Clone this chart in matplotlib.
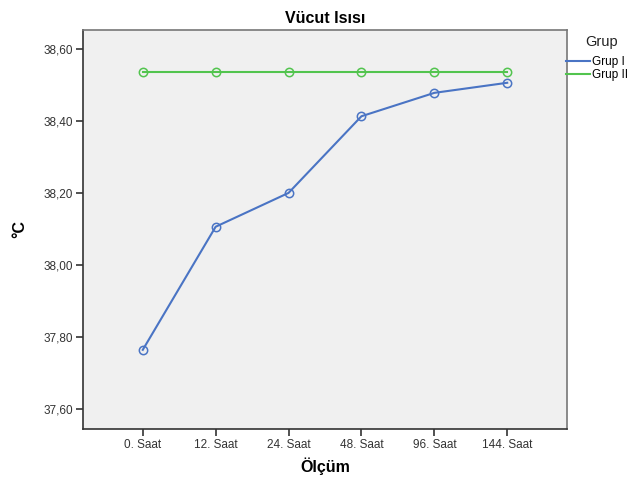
import matplotlib.pyplot as plt
from matplotlib.lines import Line2D
from matplotlib.ticker import FuncFormatter

plt.rcParams['font.family'] = ['Liberation Sans', 'DejaVu Sans']

# Ölçüm zamanları ve grup ortalamaları
olcum = ['0. Saat', '12. Saat', '24. Saat', '48. Saat', '96. Saat', '144. Saat']
grup1 = [37.764, 38.106, 38.200, 38.413, 38.478, 38.506]
grup2 = [38.536, 38.536, 38.536, 38.536, 38.536, 38.536]
y_ticks = [37.6, 37.8, 38.0, 38.2, 38.4, 38.6]

blue = '#4a74c4'
green = '#52c44e'

fig = plt.figure(figsize=(6.36, 4.78), dpi=100)
ax = fig.add_axes([0.1305, 0.1025, 0.761, 0.835])
ax.set_facecolor('#f0f0f0')

x = list(range(len(olcum)))
ax.plot(x, grup1, color=blue, lw=1.5, marker='o', markersize=6,
        markerfacecolor='none', markeredgecolor=blue, markeredgewidth=1.1)
ax.plot(x, grup2, color=green, lw=1.5, marker='o', markersize=6,
        markerfacecolor='none', markeredgecolor=green, markeredgewidth=1.1)

ax.set_xlim(-0.82, 5.82)
ax.set_ylim(37.544, 38.653)
ax.set_xticks(x)
ax.set_xticklabels(olcum)
ax.set_yticks(y_ticks)
ax.yaxis.set_major_formatter(FuncFormatter(lambda v, p: f'{v:.2f}'.replace('.', ',')))
ax.tick_params(axis='both', labelsize=8.5, colors='#333333', length=5, width=1.2, pad=2)

for side in ['left', 'bottom']:
    ax.spines[side].set_color('#333333')
    ax.spines[side].set_linewidth(1.2)
for side in ['top', 'right']:
    ax.spines[side].set_color('#777777')
    ax.spines[side].set_linewidth(1.2)

ax.set_title('Vücut Isısı', fontsize=11.5, fontweight='bold', pad=5)
ax.set_xlabel('Ölçüm', fontsize=11.5, fontweight='bold', labelpad=5)
ax.set_ylabel('°C', fontsize=11.5, fontweight='bold', labelpad=12)

# Lejant: başlık ayrı metin olarak
fig.text(585 / 636, 1 - 42 / 478, 'Grup', fontsize=10.5, color='#222222',
         ha='left', va='center')
handles = [Line2D([], [], color=blue, lw=1.5), Line2D([], [], color=green, lw=1.5)]
ax.legend(handles, ['Grup I', 'Grup II'], loc='upper left',
          bbox_to_anchor=(0.998, 0.935), frameon=False, fontsize=8.5,
          handlelength=2.0, handletextpad=0.2, labelspacing=0.12,
          borderpad=0.0, borderaxespad=0.0)

plt.savefig('out.png', dpi=100)
